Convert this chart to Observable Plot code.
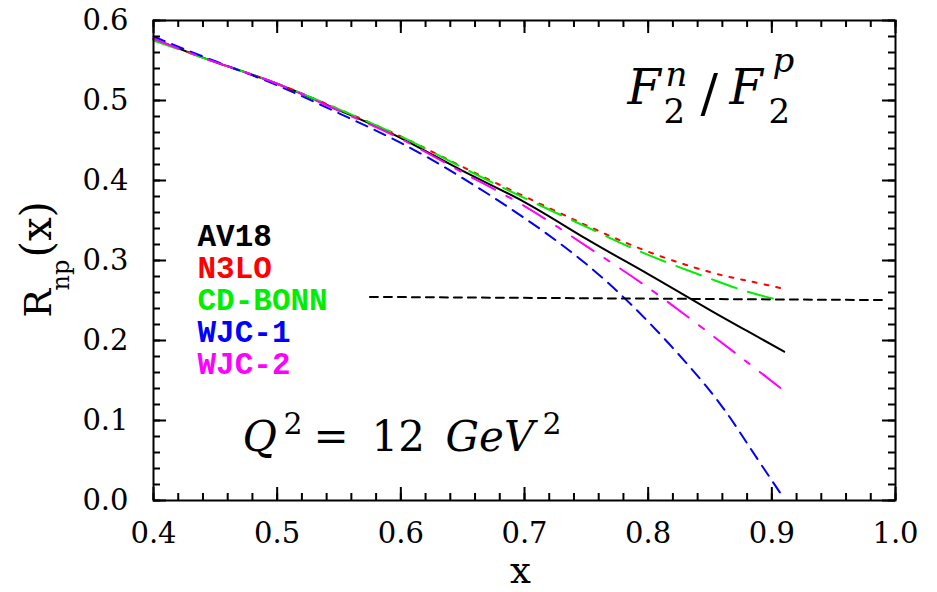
<!DOCTYPE html>
<html><head><meta charset="utf-8">
<script src="https://cdn.jsdelivr.net/npm/d3@7"></script>
<script src="https://cdn.jsdelivr.net/npm/@observablehq/plot@0.6"></script>
<style>body{margin:0;background:#fff}</style>
</head><body><div id="chart"></div>
<script>
// ---- data ----
const xValues = [0.40, 0.45, 0.50, 0.55, 0.60, 0.65, 0.70, 0.75, 0.80, 0.85, 0.88, 0.91];
const av18   = [0.577, 0.548, 0.521, 0.488, 0.453, 0.412, 0.373, 0.327, 0.283, 0.238, 0.212, 0.186];
const n3lo   = [0.577, 0.548, 0.521, 0.489, 0.455, 0.417, 0.380, 0.344, 0.311, 0.2855, 0.2748, 0.2645];
const cdbonn = [0.575, 0.548, 0.521, 0.489, 0.455, 0.416, 0.378, 0.342, 0.307, 0.2774, 0.2612, 0.249];
const wjc1   = [0.580, 0.549, 0.519, 0.484, 0.447, 0.403, 0.353, 0.2955, 0.2235, 0.137, 0.0715, 0.002];
const wjc2   = [0.577, 0.548, 0.521, 0.487, 0.452, 0.410, 0.368, 0.318, 0.266, 0.2085, 0.173, 0.137];
const seriesNames = ["AV18", "N3LO", "CD-BONN", "WJC-1", "WJC-2"];
const refLineX = [0.575, 0.99];
const refLineY = [0.2545, 0.2505];
const xTicks = [0.4, 0.5, 0.6, 0.7, 0.8, 0.9, 1.0];
const yTicks = [0.0, 0.1, 0.2, 0.3, 0.4, 0.5, 0.6];

// ---- styling ----
const seriesColors = ["#000000", "#ff0000", "#00ee00", "#0000ff", "#ff00ff"];
const seriesDash = [null, "4,8", "26,12", "12,8", "26,13,6,13"];
const seriesValues = [av18, n3lo, cdbonn, wjc1, wjc2];
const minorX = d3.range(0, 31).map(i => 0.4 + i * 0.02);
const minorY = d3.range(0, 31).map(i => i * 0.02);

const W = 937, H = 592, ML = 153, MR = 42, MT = 20, MB = 92;
const FW = W - ML - MR, FH = H - MT - MB;
const MINOR = 7, MAJOR = 13;

// text annotation helper, positioned relative to frame top-left
function label(str, px, py, opts = {}) {
  return Plot.text([str], {
    text: d => d, frameAnchor: "top-left", dx: px - ML, dy: py - MT,
    textAnchor: "start", lineAnchor: "bottom", fill: "black",
    fontFamily: "DejaVu Serif", ...opts
  });
}

const lineMarks = seriesNames.map((name, i) => {
  const rows = xValues.map((x, j) => ({x, y: seriesValues[i][j]}));
  return Plot.line(rows, {x: "x", y: "y", stroke: seriesColors[i], strokeWidth: 2,
    strokeDasharray: seriesDash[i] || undefined, curve: "natural"});
});
const refRows = refLineX.map((x, j) => ({x, y: refLineY[j]}));

// inward ticks on all four sides
const tickMarks = [];
for (const [ticks, len] of [[minorX, MINOR], [xTicks, MAJOR]]) {
  tickMarks.push(Plot.tickX(ticks, {x: d => d, insetTop: FH - len, stroke: "black", strokeWidth: 2}));
  tickMarks.push(Plot.tickX(ticks, {x: d => d, insetBottom: FH - len, stroke: "black", strokeWidth: 2}));
}
for (const [ticks, len] of [[minorY, MINOR], [yTicks, MAJOR]]) {
  tickMarks.push(Plot.tickY(ticks, {y: d => d, insetRight: FW - len, stroke: "black", strokeWidth: 2}));
  tickMarks.push(Plot.tickY(ticks, {y: d => d, insetLeft: FW - len, stroke: "black", strokeWidth: 2}));
}

const legendMarks = seriesNames.map((name, i) =>
  label(name, 197, 245 + 32 * i, {fill: seriesColors[i], fontFamily: "Liberation Mono", fontWeight: "bold", fontSize: 31, letterSpacing: "1.3px"}));

const chart = Plot.plot({
  width: W, height: H,
  marginLeft: ML, marginRight: MR, marginTop: MT, marginBottom: MB,
  style: {fontFamily: "DejaVu Serif", background: "white", color: "black"},
  x: {domain: [0.4, 1.0], axis: null},
  y: {domain: [0, 0.6], axis: null},
  marks: [
    ...lineMarks,
    Plot.line(refRows, {x: "x", y: "y", stroke: "black", strokeWidth: 2, strokeDasharray: "8,6"}),
    ...tickMarks,
    Plot.axisX(xTicks, {anchor: "bottom", tickSize: 0, tickPadding: 22, tickFormat: d3.format(".1f"), fontSize: 29, label: null}),
    Plot.axisY(yTicks, {anchor: "left", tickSize: 0, tickPadding: 25, tickFormat: d3.format(".1f"), fontSize: 29, label: null}),
    Plot.frame({stroke: "black", strokeWidth: 2}),
    ...legendMarks,
    // axis titles
    label("x", 520, 582, {textAnchor: "middle", fontSize: 37}),
    label("R", 50, 317, {rotate: -90, fontSize: 38}),
    label("np", 68, 290, {rotate: -90, fontSize: 24}),
    label("(x)", 50, 257, {rotate: -90, fontSize: 42}),
    // F2n / F2p
    label("F", 627, 103, {fontSize: 48, fontStyle: "italic"}),
    label("n", 665, 85, {fontSize: 34, fontStyle: "italic"}),
    label("2", 663, 122, {fontSize: 34}),
    label("/", 700, 110, {fontSize: 52}),
    label("F", 729, 103, {fontSize: 48, fontStyle: "italic"}),
    label("p", 772, 71, {fontSize: 34, fontStyle: "italic"}),
    label("2", 768, 122, {fontSize: 34}),
    // Q^2 = 12 GeV^2
    label("Q", 242, 450, {fontSize: 42, fontStyle: "italic"}),
    label("2", 283, 433, {fontSize: 30}),
    label("=", 313, 450, {fontSize: 42}),
    label("12", 371, 450, {fontSize: 42}),
    label("GeV", 445, 450, {fontSize: 42, fontStyle: "italic"}),
    label("2", 542, 433, {fontSize: 30})
  ]
});
document.getElementById("chart").appendChild(chart);
</script>
</body></html>
